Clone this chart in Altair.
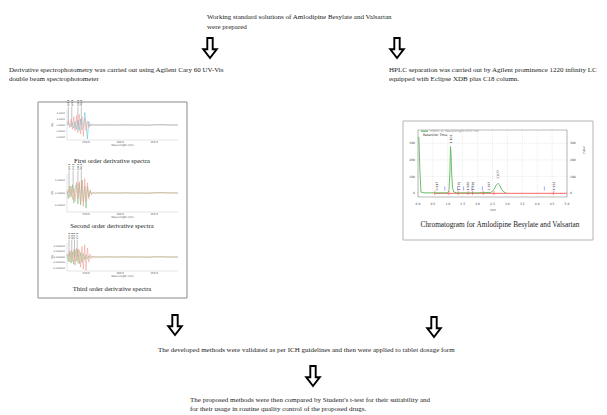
import altair as alt
import pandas as pd

# ---------------- canvas geometry (reference pixel space) ----------------
W, H = 591, 407
X0, X1 = 8, 599
Y0, Y1 = 8, 415


def sx(x):
    return (x - X0) * W / (X1 - X0)


def sy(y):
    return (y - Y0) * H / (Y1 - Y0)


FONT = "Liberation Serif"
TXT = "#1a1a1a"

# ---------------- flowchart text ----------------
flow_texts = [
    "Working standard solutions of Amlodipine Besylate and Valsartan",
    "were prepared",
    "Derivative spectrophotometry was carried out using Agilent Cary 60 UV-Vis",
    "double beam spectrophotometer",
    " HPLC separation was carried out by Agilent prominence 1220 infinity LC",
    "equipped with Eclipse XDB plus C18 column.",
    "The developed methods were validated as per ICH guidelines and then were applied to tablet dosage form",
    "The proposed methods were then compared by Student's t-test for their suitability and",
    "for their usage in routine quality control of the proposed drugs.",
]
flow_pos = [(207, 17), (207, 27), (9, 70), (9, 79), (389, 70), (389, 79),
            (158, 350), (190, 400), (190, 409)]

captions = [
    "First order derivative spectra",
    "Second order derivative spectra",
    "Third order derivative spectra",
    "Chromatogram for Amlodipine Besylate and Valsartan",
]
caption_pos = [(112, 161), (112, 226), (112, 289), (500, 225)]
caption_size = [6.6, 6.6, 6.6, 7.3]

arrow_pos = [(210, 48), (397, 48), (175, 325), (434, 327), (313, 376)]

boxes = [(38, 187, 102, 298, "#8a8a8a"), (403, 593, 121, 240, "#b5b5b5")]

# ---------------- derivative spectra data ----------------
wl = [222, 224, 226, 228, 230, 232, 234, 236, 238, 240, 242, 244, 246, 248, 250,
      252, 254, 256, 258, 260, 263, 266, 270, 280, 290, 300, 310, 320, 330, 340,
      350, 360, 370, 380, 385]
d1_red = [0.2, 0.7, -0.4, 1.0, -0.7, 1.4, -1.0, 1.6, -1.3, 1.8, -1.5, 1.4, -1.9, 1.1, -0.9,
          0.6, -0.4, 0.2, -0.1, 0.08, -0.04, 0.03, 0.0, 0.02, -0.02, 0.0, 0.03, -0.02, 0.0, -0.05,
          0.04, 0.08, 0.03, 0.0, 0.0]
d1_cyan = [0.0, 0.2, 0.1, -0.3, 0.4, -0.5, 0.6, -0.7, 0.8, -0.9, 1.0, -0.8, -0.4, 2.1, 0.3,
           -2.3, 0.6, -0.2, 0.1, 0.0, 0.02, 0.0, 0.0, 0.01, 0.0, 0.0, 0.01, 0.0, 0.0, -0.02,
           0.02, 0.03, 0.0, 0.0, 0.0]
d2_green = [0.3, -0.9, 1.1, -0.6, 1.3, -1.6, 0.9, 1.4, -1.7, 1.5, -1.9, 2.0, -1.4, 1.1, -2.4,
            1.0, -0.6, 0.3, -0.2, 0.1, -0.05, 0.03, 0.0, 0.02, 0.0, 0.0, 0.02, -0.02, 0.0, -0.03,
            0.03, 0.05, 0.02, 0.0, 0.0]
d2_red = [-0.2, 0.6, -0.7, 1.1, -1.0, 0.7, -1.3, 1.7, -0.9, 1.8, -1.6, 2.0, -2.1, 2.3, -1.3,
          1.6, -0.9, 0.5, -0.25, 0.12, -0.06, 0.03, 0.0, 0.01, -0.01, 0.0, 0.02, -0.01, 0.0, -0.03,
          0.02, 0.04, 0.01, 0.0, 0.0]
d3_green = [0.4, -0.8, 1.0, -1.1, 0.9, -1.3, 1.2, -0.7, 1.4, -1.2, 0.8, -1.0, 0.6, -0.5, 0.4,
            -0.3, 0.2, -0.1, 0.05, 0.0, 0.02, 0.0, 0.0, 0.01, 0.0, 0.0, 0.01, 0.0, 0.0, -0.02,
            0.02, 0.03, 0.0, 0.0, 0.0]
d3_red = [0.2, 0.6, -0.9, 1.2, -0.8, 1.4, -1.5, 1.6, -1.1, 1.3, -1.8, 1.9, -2.2, 2.2, -2.4,
          1.6, -0.9, 0.5, -0.3, 0.15, -0.06, 0.03, 0.0, 0.02, -0.01, 0.0, 0.02, -0.01, 0.0, -0.03,
          0.02, 0.04, 0.01, 0.0, 0.0]

wl_ticks = [250, 300, 350]
d1_yticks = [2, 1, 0, -1, -2]
d1_ylabels = ["0.0002", "0.0001", "0.0000", "-0.0001", "-0.0002"]
d2_yticks = [2, 0, -2]
d2_ylabels = ["0.00002", "0.00000", "-0.00002"]
d3_yticks = [2, 1, 0, -1, -2]
d3_ylabels = ["0.000002", "0.000001", "0.000000", "-0.000001", "-0.000002"]
d1_peaks = [224, 229, 238, 243]
d2_peaks = [225, 231, 238, 243]
d3_peaks = [225, 229, 233, 237]

# ---------------- chromatogram data ----------------
t_green = [0.00, 0.03, 0.06, 0.10, 0.20, 0.60, 1.00, 1.04, 1.07, 1.09, 1.11, 1.13, 1.16,
           1.20, 1.30, 2.00, 2.45, 2.55, 2.62, 2.68, 2.74, 2.80, 2.88, 2.95]
mau_green = [335, 335, 150, 5, 0, 0, 0, 15, 120, 280, 230, 110, 30, 5, 0, 0, 3, 20, 45, 58,
             48, 22, 5, 0]
t_red = [0.56, 5.0]
mau_red = [-3, -3]
peak_times = [0.617, 1.103, 1.375, 1.680, 1.838, 2.367, 2.677, 4.553]
peak_label_base = [15, 300, 15, 15, 15, 15, 85, 15]
red_marks = [0.56, 1.04, 1.35, 1.68, 1.83, 2.19, 2.55, 4.55]
blue_marks = [0.90, 1.33, 1.53, 1.81, 2.16, 4.24]
t_ticks = [0.0, 0.5, 1.0, 1.5, 2.0, 2.5, 3.0, 3.5, 4.0, 4.5, 5.0]
mau_ticks = [0, 100, 200, 300]

# ---------------- canvas layer ----------------
cxs = alt.Scale(domain=[X0, X1], range=[0, W])
cys = alt.Scale(domain=[Y0, Y1], range=[0, H])


def cenc(xf="x", yf="y"):
    return dict(x=alt.X(f"{xf}:Q", scale=cxs, axis=None),
                y=alt.Y(f"{yf}:Q", scale=cys, axis=None))


flow_df = pd.DataFrame({"t": flow_texts, "x": [p[0] for p in flow_pos], "y": [p[1] for p in flow_pos]})
flow_layer = alt.Chart(flow_df).mark_text(
    font=FONT, fontSize=7, align="left", baseline="middle", color=TXT
).encode(text="t:N", **cenc())

cap_layers = []
for t, (x, y), s in zip(captions, caption_pos, caption_size):
    cap_layers.append(
        alt.Chart(pd.DataFrame({"t": [t], "x": [x], "y": [y]})).mark_text(
            font=FONT, fontSize=s, align="center", baseline="middle", color=TXT
        ).encode(text="t:N", **cenc())
    )

ARROW = "M-0.27,-1 L0.27,-1 L0.27,0.12 L0.68,0.12 L0,1 L-0.68,0.12 L-0.27,0.12 Z"
arrow_df = pd.DataFrame({"x": [p[0] for p in arrow_pos], "y": [p[1] for p in arrow_pos]})
arrow_layer = alt.Chart(arrow_df).mark_point(
    shape=ARROW, size=400, filled=True, fill="white", stroke="black", strokeWidth=1.9, opacity=1
).encode(**cenc())

box_layers = []
for (bx0, bx1, by0, by1, col) in boxes:
    box_layers.append(
        alt.Chart(pd.DataFrame({"x": [bx0], "x2": [bx1], "y": [by0], "y2": [by1]})).mark_rect(
            fillOpacity=0, stroke=col, strokeWidth=1
        ).encode(x=alt.X("x:Q", scale=cxs, axis=None), x2="x2:Q",
                 y=alt.Y("y:Q", scale=cys, axis=None), y2="y2:Q")
    )

legend_df = pd.DataFrame({"t": ["VWD1 A, Wavelength=237 nm", "Retention Time"],
                          "x": [430, 423], "y": [131.2, 135.2], "c": ["#9a9a9a", "#222222"]})
legend_text = alt.Chart(legend_df).mark_text(
    font="DejaVu Sans", fontSize=3.2, align="left", baseline="middle"
).encode(text="t:N", color=alt.Color("c:N", scale=None), **cenc())
legend_line = alt.Chart(pd.DataFrame({"x": [421], "x2": [428], "y": [131.2]})).mark_rule(
    color="#4caf50", strokeWidth=1
).encode(x=alt.X("x:Q", scale=cxs, axis=None), x2="x2:Q", y=alt.Y("y:Q", scale=cys, axis=None))

canvas = alt.layer(*box_layers, flow_layer, *cap_layers, arrow_layer, legend_line, legend_text)


# ---------------- spectrum panels ----------------
def spectrum(series, colors, ydom, box, yticks, ylabels, peaks):
    x0, x1, yt, yb = box
    xs = alt.Scale(domain=[222, 385], range=[sx(x0), sx(x1)])
    ys = alt.Scale(domain=ydom, range=[sy(yb), sy(yt)])
    X = alt.X("w:Q", scale=xs, axis=None)
    Y = alt.Y("v:Q", scale=ys, axis=None)
    one = pd.DataFrame({"a": [0]})
    axes = alt.layer(
        alt.Chart(one).mark_rule(color="#c8c8c8", strokeWidth=0.5).encode(
            x=alt.value(sx(x0)), y=alt.value(sy(yt)), y2=alt.value(sy(yb))),
        alt.Chart(one).mark_rule(color="#c8c8c8", strokeWidth=0.5).encode(
            x=alt.value(sx(x0)), x2=alt.value(sx(x1)), y=alt.value(sy(yb))),
    )
    peak_df = pd.DataFrame({"w": peaks, "lab": [str(p) + ".0" for p in peaks]})
    prules = alt.Chart(peak_df).mark_rule(color="#666666", strokeWidth=0.4).encode(
        x=X, y=alt.value(sy(yt - 3)), y2=alt.value(sy((yt + yb) / 2)))
    plabs = alt.Chart(peak_df).mark_text(
        font="DejaVu Sans", fontSize=2.4, angle=270, align="left", baseline="middle", color="#333333"
    ).encode(x=X, y=alt.value(sy(yt - 3.5)), text="lab:N")
    line_layers = []
    for vals, col in zip(series, colors):
        line_layers.append(
            alt.Chart(pd.DataFrame({"w": wl, "v": vals})).mark_line(
                strokeWidth=0.55, color=col).encode(x=X, y=Y)
        )
    xt = alt.Chart(pd.DataFrame({"w": wl_ticks, "lab": [str(v) + ".0" for v in wl_ticks]})).mark_text(
        font="DejaVu Sans", fontSize=2.6, baseline="top", color="#555555"
    ).encode(x=X, y=alt.value(sy(yb + 1)), text="lab:N")
    yt_ = alt.Chart(pd.DataFrame({"v": yticks, "lab": ylabels})).mark_text(
        font="DejaVu Sans", fontSize=2.4, align="right", baseline="middle", color="#555555"
    ).encode(x=alt.value(sx(x0 - 2)), y=Y, text="lab:N")
    titles = alt.layer(
        alt.Chart(pd.DataFrame({"t": ["Wavelength (nm)"]})).mark_text(
            font="DejaVu Sans", fontSize=2.6, color="#555555", baseline="top"
        ).encode(x=alt.value(sx((x0 + x1) / 2)), y=alt.value(sy(yb + 4)), text="t:N"),
        alt.Chart(pd.DataFrame({"t": ["dA"]})).mark_text(
            font="DejaVu Sans", fontSize=2.8, color="#555555", angle=270
        ).encode(x=alt.value(sx(x0 - 15)), y=alt.value(sy((yt + yb) / 2)), text="t:N"),
    )
    return alt.layer(axes, prules, plabs, *line_layers, xt, yt_, titles)


RED_S, CYAN_S, GREEN_S = "#f39a94", "#4cc3d6", "#6cc070"
sp1 = spectrum([d1_cyan, d1_red], [CYAN_S, RED_S], [-2.5, 2.5], (67, 178, 110, 140),
               d1_yticks, d1_ylabels, d1_peaks)
sp2 = spectrum([d2_green, d2_red], [GREEN_S, RED_S], [-3, 3], (67, 178, 174, 212),
               d2_yticks, d2_ylabels, d2_peaks)
sp3 = spectrum([d3_green, d3_red], [GREEN_S, RED_S], [-2.5, 2.5], (67, 178, 243, 271),
               d3_yticks, d3_ylabels, d3_peaks)

# ---------------- chromatogram panel ----------------
txs = alt.Scale(domain=[0, 5], range=[sx(418), sx(567)])
tys = alt.Scale(domain=[-25, 380], range=[sy(197), sy(130)])
TX = alt.X("t:Q", scale=txs, axis=None)
TY = alt.Y("m:Q", scale=tys, axis=None)

vgrid = alt.Chart(pd.DataFrame({"t": t_ticks})).mark_rule(
    color="#cccccc", strokeWidth=0.4, strokeDash=[1, 1]
).encode(x=TX, y=alt.value(sy(130)), y2=alt.value(sy(197)))
hgrid = alt.Chart(pd.DataFrame({"m": mau_ticks})).mark_rule(
    color="#cccccc", strokeWidth=0.4, strokeDash=[1, 1]
).encode(y=TY, x=alt.value(sx(418)), x2=alt.value(sx(567)))
frame = alt.Chart(pd.DataFrame({"a": [0]})).mark_rect(
    fillOpacity=0, stroke="#777777", strokeWidth=0.5
).encode(x=alt.value(sx(418)), x2=alt.value(sx(567)), y=alt.value(sy(130)), y2=alt.value(sy(197)))
green = alt.Chart(pd.DataFrame({"t": t_green, "m": mau_green})).mark_line(
    color="#5cb85c", strokeWidth=0.9).encode(x=TX, y=TY)
red = alt.Chart(pd.DataFrame({"t": t_red, "m": mau_red})).mark_line(
    color="#ff6f6f", strokeWidth=1.0).encode(x=TX, y=TY)
rmarks = alt.Chart(pd.DataFrame({"t": red_marks})).mark_rule(color="#ff4d4d", strokeWidth=0.6).encode(
    x=TX, y=alt.value(sy(191)), y2=alt.value(sy(195)))
bmarks = alt.Chart(pd.DataFrame({"t": blue_marks})).mark_rule(color="#6a6aff", strokeWidth=0.6).encode(
    x=TX, y=alt.value(sy(186.5)), y2=alt.value(sy(190.5)))
plab = alt.Chart(pd.DataFrame({"t": peak_times, "m": peak_label_base,
                               "lab": [f"{p:.3f}" for p in peak_times]})).mark_text(
    font="DejaVu Sans", fontSize=3.0, angle=270, align="left", baseline="middle", color="#333333"
).encode(x=TX, y=TY, text="lab:N")
xlab = alt.Chart(pd.DataFrame({"t": t_ticks, "lab": [f"{v:.1f}" for v in t_ticks]})).mark_text(
    font="DejaVu Sans", fontSize=3.0, baseline="middle", color="#444444"
).encode(x=TX, y=alt.value(sy(204)), text="lab:N")
ylab_l = alt.Chart(pd.DataFrame({"m": mau_ticks, "lab": [str(v) for v in mau_ticks]})).mark_text(
    font="DejaVu Sans", fontSize=3.0, align="right", baseline="middle", color="#444444"
).encode(x=alt.value(sx(415)), y=TY, text="lab:N")
ylab_r = alt.Chart(pd.DataFrame({"m": mau_ticks, "lab": [str(v) for v in mau_ticks]})).mark_text(
    font="DejaVu Sans", fontSize=3.0, align="left", baseline="middle", color="#444444"
).encode(x=alt.value(sx(570)), y=TY, text="lab:N")
ctitles = alt.layer(
    alt.Chart(pd.DataFrame({"t": ["min"]})).mark_text(
        font="DejaVu Sans", fontSize=3.0, color="#444444", baseline="middle"
    ).encode(x=alt.value(sx(493)), y=alt.value(sy(209.5)), text="t:N"),
    alt.Chart(pd.DataFrame({"t": ["mAU"]})).mark_text(
        font="DejaVu Sans", fontSize=3.0, color="#444444", angle=90, baseline="middle"
    ).encode(x=alt.value(sx(584)), y=alt.value(sy(150)), text="t:N"),
)
chrom = alt.layer(vgrid, hgrid, frame, red, green, rmarks, bmarks, plab, xlab, ylab_l, ylab_r, ctitles)

chart = alt.layer(canvas, sp1, sp2, sp3, chrom).resolve_scale(
    x="independent", y="independent"
).properties(
    width=W, height=H, padding=0, background="white",
    autosize=alt.AutoSizeParams(type="none"),
).configure_view(stroke=None)

chart.save("out.html", embed_options={"renderer": "svg", "actions": False})
